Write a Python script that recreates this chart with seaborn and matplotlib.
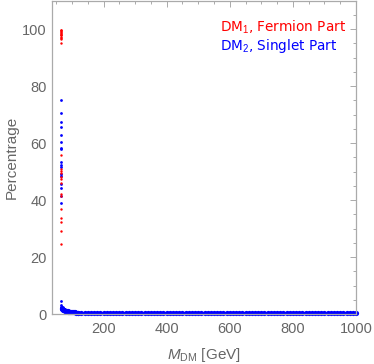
import numpy as np
import pandas as pd
import matplotlib
matplotlib.use('Agg')
import matplotlib.pyplot as plt
from matplotlib.ticker import MultipleLocator
import seaborn as sns

sns.set_style('white')
plt.rcParams['font.family'] = ['Liberation Sans', 'DejaVu Sans']
plt.rcParams['mathtext.fontset'] = 'custom'
plt.rcParams['mathtext.it'] = 'Liberation Sans:italic'
plt.rcParams['mathtext.rm'] = 'Liberation Sans'

# resonance column (m_DM ~ 66 GeV)
res_mass = 66
fermion_res = [99.9, 99.6, 99.3, 99.0, 98.7, 98.4, 98.1, 97.8, 97.4, 97.0, 96.7, 95.0,
               55.7, 51.0, 50.2, 49.6, 48.2, 47.3, 46.1, 42.3, 41.5, 36.8, 33.9,
               32.4, 29.2, 24.6]
singlet_res = [75.1, 70.6, 67.5, 65.7, 63.0, 60.5, 58.4, 57.8, 53.4, 52.3, 51.7,
               49.1, 48.4, 45.8, 44.1, 41.4, 39.1, 4.7, 3.2, 2.6, 2.2, 1.9]

# singlet part away from the resonance
tail_mass = [68, 70, 72, 74, 76, 78, 80, 83, 86, 89, 92, 95, 98, 101, 104, 107, 110, 114, 118,
             120, 130, 140, 150, 160, 170, 180, 190, 200, 210,
             220, 230, 240, 250, 260, 270, 280, 290, 300, 310,
             320, 330, 340, 350, 360, 370, 380, 390, 400, 410,
             420, 430, 440, 450, 460, 470, 480, 490, 500, 510,
             520, 530, 540, 550, 560, 570, 580, 590, 600, 610,
             620, 630, 640, 650, 660, 670, 680, 690, 700, 710,
             720, 730, 740, 750, 760, 770, 780, 790, 800, 810,
             820, 830, 840, 850, 860, 870, 880, 890, 900, 910,
             920, 930, 940, 950, 960, 970, 980, 990, 1000]
tail_pct = [2.1, 1.8, 1.6, 1.45, 1.3, 1.2, 1.1, 1.0, 0.95, 0.9, 0.85, 0.8, 0.8, 0.75, 0.7,
            0.7, 0.65, 0.45, 0.42,
            0.40, 0.40, 0.40, 0.39, 0.39, 0.39, 0.38, 0.38, 0.38, 0.38,
            0.37, 0.37, 0.37, 0.37, 0.37, 0.36, 0.36, 0.36, 0.36, 0.36,
            0.36, 0.35, 0.35, 0.35, 0.35, 0.35, 0.35, 0.35, 0.35, 0.34,
            0.34, 0.34, 0.34, 0.34, 0.34, 0.34, 0.34, 0.34, 0.34, 0.34,
            0.34, 0.34, 0.33, 0.33, 0.33, 0.33, 0.33, 0.33, 0.33, 0.33,
            0.33, 0.33, 0.33, 0.33, 0.33, 0.33, 0.33, 0.33, 0.33, 0.33,
            0.33, 0.33, 0.33, 0.33, 0.33, 0.33, 0.33, 0.33, 0.33, 0.33,
            0.33, 0.33, 0.33, 0.33, 0.33, 0.33, 0.33, 0.33, 0.33, 0.33,
            0.33, 0.33, 0.33, 0.33, 0.33, 0.33, 0.33, 0.33, 0.33]

fdf = pd.DataFrame({'m': [res_mass] * len(fermion_res), 'p': fermion_res})
sdf = pd.DataFrame({'m': [res_mass] * len(singlet_res), 'p': singlet_res})
tdf = pd.DataFrame({'m': tail_mass, 'p': tail_pct})

fig = plt.figure(figsize=(3.74, 3.64), dpi=100)
ax = fig.add_axes([0.14, 0.137, 0.812, 0.861])

# dense scan -> looks like a thick band
sns.scatterplot(data=tdf, x='m', y='p', color='#0000ff', s=14, linewidth=0, ax=ax, clip_on=False)
sns.scatterplot(data=sdf, x='m', y='p', color='#0000ff', s=4, linewidth=0, ax=ax, clip_on=False)
sns.scatterplot(data=fdf, x='m', y='p', color='#ff0000', s=3, linewidth=0, ax=ax, clip_on=False)

ax.set_xlim(38, 1000)
ax.set_ylim(0, 110)
ax.xaxis.set_major_locator(MultipleLocator(200))
ax.xaxis.set_minor_locator(MultipleLocator(50))
ax.yaxis.set_major_locator(MultipleLocator(20))
ax.yaxis.set_minor_locator(MultipleLocator(5))
ax.tick_params(which='both', direction='in', top=True, right=True, color='#aaaaaa',
               labelcolor='#666666', labelsize=10.5, width=0.7)
ax.tick_params(axis='x', which='major', length=4, pad=6)
ax.tick_params(axis='y', which='major', length=4, pad=4)
ax.tick_params(which='minor', length=2)
for sp in ax.spines.values():
    sp.set_color('#aaaaaa')
    sp.set_linewidth(0.9)

ax.set_xlabel(r'$M_{\mathrm{DM}}$ [GeV]', color='#666666', fontsize=11, labelpad=7)
ax.set_ylabel('Percentrage', color='#666666', fontsize=11)
ax.yaxis.set_label_coords(-0.112, 0.5)

ax.text(0.553, 0.914, r'DM$_1$, Fermion Part', transform=ax.transAxes, ha='left',
        va='center', color='#ff0000', fontsize=9.8, family=['DejaVu Sans'])
ax.text(0.553, 0.857, r'DM$_2$, Singlet Part', transform=ax.transAxes, ha='left',
        va='center', color='#0000ff', fontsize=9.8, family=['DejaVu Sans'])

fig.savefig('out.png', dpi=100)
